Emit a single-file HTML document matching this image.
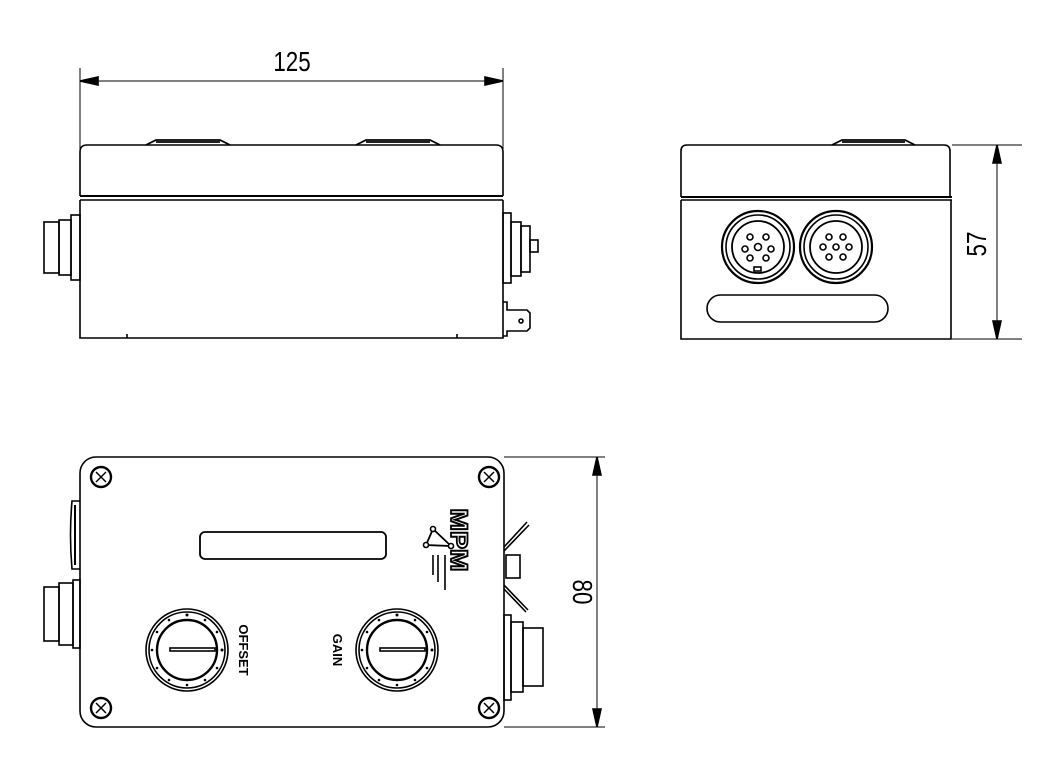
<!DOCTYPE html>
<html><head><meta charset="utf-8"><style>
html,body{margin:0;padding:0;background:#fff;}
svg{display:block;}
text{font-family:"Liberation Sans",sans-serif;}
</style></head><body>
<svg width="1050" height="768" viewBox="0 0 1050 768" xmlns="http://www.w3.org/2000/svg">
<g fill="none" stroke="#000" stroke-width="1.6">
<!-- ===== FRONT VIEW ===== -->
<line x1="80" y1="68" x2="80" y2="150" stroke-width="1"/>
<line x1="503" y1="68" x2="503" y2="150" stroke-width="1"/>
<line x1="80" y1="81" x2="503" y2="81" stroke-width="1"/>
<path d="M80 81 L98 77 L98 85 Z M503 81 L485 77 L485 85 Z" fill="#000"/>
<path d="M146 145 L156 140 L220 140 L230 145 M156 142 L220 142" stroke-width="1.8"/>
<path d="M356 145 L366 140 L430 140 L440 145 M366 142 L430 142" stroke-width="1.8"/>
<path d="M80 196 L80 152 Q80 145 87 145 L496 145 Q503 145 503 152 L503 196"/>
<line x1="80" y1="196" x2="503" y2="196" stroke-width="2"/>
<line x1="80" y1="200" x2="503" y2="200"/>
<path d="M80 200 L80 338 L127 338 L127 334 M127 338 L457 338 M457 334 L457 338 L503 338 L503 200"/>
<rect x="44" y="222" width="15" height="51"/>
<rect x="59" y="220" width="12" height="55"/>
<rect x="71" y="215" width="9" height="65"/>
<rect x="503" y="213" width="8" height="70"/>
<rect x="511" y="222" width="10" height="54"/>
<rect x="521" y="226" width="9" height="46"/>
<rect x="530" y="240" width="8" height="12"/>
<path d="M503 302 L507 302 L507 310 L527 310 L530 313 L530 328 L527 331 L507 331 L507 336 L503 336"/>
<circle cx="521" cy="321" r="2"/>

<!-- ===== SIDE VIEW ===== -->
<path d="M832 145 L842 140 L905 140 L915 145 M842 142 L905 142" stroke-width="1.8"/>
<path d="M681 197 L681 151 Q681 145 687 145 L944 145 Q950 145 950 151 L950 197"/>
<line x1="681" y1="197" x2="952" y2="197" stroke-width="2"/>
<line x1="681" y1="200" x2="952" y2="200"/>
<path d="M681 200 L681 339 L951 339 L951 200"/>
<line x1="952" y1="145" x2="1022" y2="145" stroke-width="1"/>
<line x1="952" y1="339" x2="1022" y2="339" stroke-width="1"/>
<line x1="997" y1="145" x2="997" y2="339" stroke-width="1"/>
<path d="M997 145 L993 163 L1001 163 Z M997 339 L993 321 L1001 321 Z" fill="#000"/>
<circle cx="758" cy="247" r="36" stroke-width="2.2"/>
<circle cx="758" cy="247" r="32"/>
<circle cx="758" cy="247" r="26" stroke-width="1.8"/>
<circle cx="758" cy="247" r="3.5"/>
<circle cx="750" cy="237" r="3"/><circle cx="766" cy="237" r="3"/>
<circle cx="745" cy="249" r="3"/><circle cx="771" cy="249" r="3"/>
<circle cx="750" cy="258" r="3"/><circle cx="766" cy="258" r="3"/>
<rect x="754" y="267" width="7" height="4"/>
<circle cx="836" cy="247" r="36" stroke-width="2.2"/>
<circle cx="836" cy="247" r="32"/>
<circle cx="836" cy="247" r="26" stroke-width="1.8"/>
<circle cx="836" cy="247" r="3"/>
<circle cx="829" cy="237" r="3"/><circle cx="843" cy="237" r="3"/>
<circle cx="823" cy="247" r="3"/><circle cx="849" cy="247" r="3"/>
<circle cx="829" cy="257" r="3"/><circle cx="843" cy="257" r="3"/>
<rect x="707" y="295" width="181" height="27" rx="13.5"/>

<!-- ===== TOP VIEW ===== -->
<rect x="80" y="457" width="424" height="270" rx="16"/>
<line x1="504" y1="457" x2="605" y2="457" stroke-width="1"/>
<line x1="504" y1="727" x2="605" y2="727" stroke-width="1"/>
<line x1="597" y1="457" x2="597" y2="727" stroke-width="1"/>
<path d="M597 457 L593 475 L601 475 Z M597 727 L593 709 L601 709 Z" fill="#000"/>
<g stroke-width="2.4">
<circle cx="101" cy="477" r="10"/><path d="M96 472 L106 482 M106 472 L96 482" stroke-width="1.5"/>
<circle cx="489" cy="477" r="10"/><path d="M484 472 L494 482 M494 472 L484 482" stroke-width="1.5"/>
<circle cx="101" cy="708" r="10"/><path d="M96 703 L106 713 M106 703 L96 713" stroke-width="1.5"/>
<circle cx="489" cy="708" r="10"/><path d="M484 703 L494 713 M494 703 L484 713" stroke-width="1.5"/>
</g>
<rect x="200" y="532" width="186" height="27" rx="5" stroke-width="1.8"/>
<circle cx="187" cy="650" r="41"/>
<circle cx="187" cy="650" r="38"/>
<circle cx="187" cy="650" r="30" stroke-width="2.4"/>
<rect x="170" y="648" width="45" height="3"/>
<circle cx="397" cy="650" r="41"/>
<circle cx="397" cy="650" r="38"/>
<circle cx="397" cy="650" r="30" stroke-width="2.4"/>
<rect x="380" y="648" width="45" height="3"/>
<path d="M80 501 L72 501 Q69 535 72 569 L80 569"/>
<line x1="75" y1="505" x2="75" y2="565" stroke-width="2"/>
<rect x="44" y="587" width="15" height="54"/>
<rect x="59" y="583" width="14" height="62"/>
<rect x="73" y="580" width="7" height="68"/>
<rect x="504" y="615" width="7" height="85"/>
<rect x="511" y="622" width="12" height="70"/>
<rect x="523" y="628" width="20" height="58"/>
<path d="M504 547 L527 522 M504 551 L529 525 M504 585 L528 610 M504 589 L526 612"/>
<rect x="506" y="555" width="14" height="23"/>
<path d="M433 529 L426 545 L451 546 Z" stroke-width="1.8"/>
<circle cx="433" cy="529" r="2.5" fill="#fff"/><circle cx="426" cy="545" r="2.5" fill="#fff"/><circle cx="451" cy="546" r="2.5" fill="#fff"/>
<path d="M433 555 L433 575 M438 555 L438 582 M445 555 L445 590" stroke-width="1.6"/>
</g>
<g fill="#000" stroke="none">
<text x="0" y="0" font-size="28" text-anchor="middle" transform="translate(292,71) scale(0.8,1)">125</text>
<text x="0" y="0" font-size="28" text-anchor="middle" transform="translate(986,244) rotate(-90) scale(0.8,1)">57</text>
<text x="0" y="0" font-size="28" text-anchor="middle" transform="translate(573,592) rotate(90) scale(0.8,1)">80</text>
<text x="0" y="0" font-size="13" font-weight="bold" text-anchor="middle" transform="translate(239,650) rotate(90)">OFFSET</text>
<text x="0" y="0" font-size="13" font-weight="bold" text-anchor="middle" transform="translate(333,650) rotate(90)">GAIN</text>
<text x="0" y="0" font-size="27" font-weight="bold" text-anchor="middle" fill="#fff" stroke="#000" stroke-width="2" transform="translate(451,540) rotate(90) scale(1,0.9)">MPM</text>
</g>
<g fill="#000">
<circle cx="187" cy="615" r="1.5"/><circle cx="205" cy="620" r="1.3"/><circle cx="217" cy="632" r="1.3"/><circle cx="222" cy="650" r="1.5"/><circle cx="217" cy="668" r="1.3"/><circle cx="205" cy="680" r="1.3"/><circle cx="187" cy="685" r="1.3"/><circle cx="169" cy="680" r="1.3"/><circle cx="157" cy="668" r="1.3"/><circle cx="152" cy="650" r="1.3"/><circle cx="157" cy="632" r="1.3"/><circle cx="169" cy="620" r="1.3"/>
<circle cx="397" cy="615" r="1.5"/><circle cx="415" cy="620" r="1.3"/><circle cx="427" cy="632" r="1.3"/><circle cx="432" cy="650" r="1.5"/><circle cx="427" cy="668" r="1.3"/><circle cx="415" cy="680" r="1.3"/><circle cx="397" cy="685" r="1.3"/><circle cx="379" cy="680" r="1.3"/><circle cx="367" cy="668" r="1.3"/><circle cx="362" cy="650" r="1.3"/><circle cx="367" cy="632" r="1.3"/><circle cx="379" cy="620" r="1.3"/>
</g>
</svg>
</body></html>
